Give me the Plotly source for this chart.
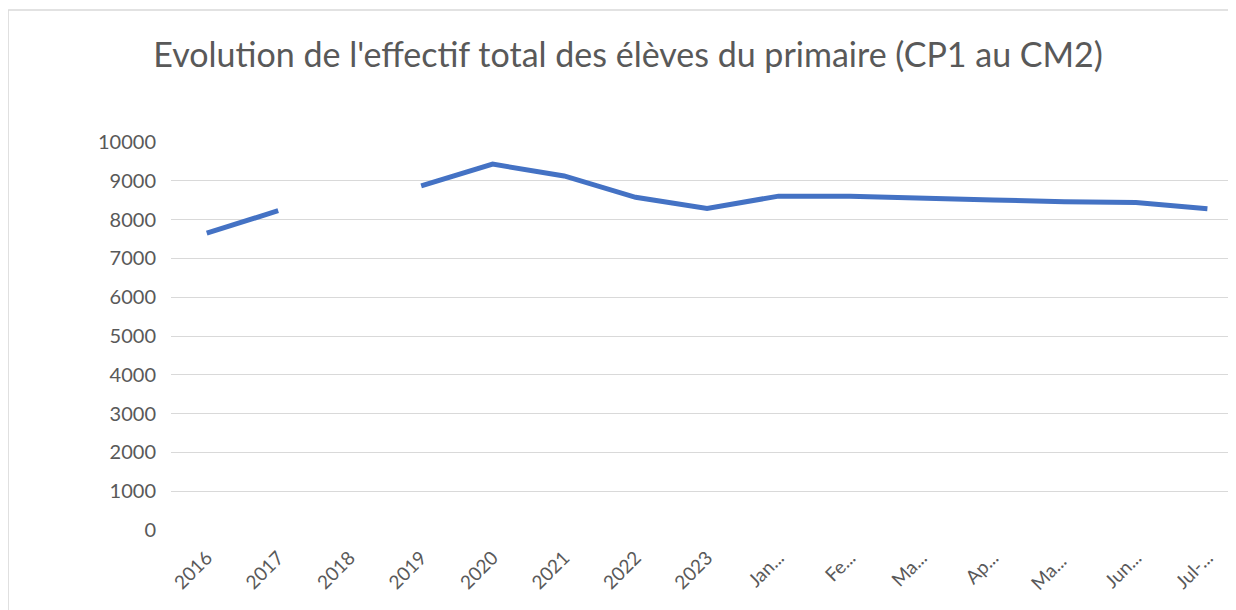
import plotly.graph_objects as go

categories = ["2016", "2017", "2018", "2019", "2020", "2021", "2022", "2023",
              "Jan...", "Fe...", "Ma...", "Ap...", "Ma... ", "Jun...", "Jul-..."]
effectif = [7650, 8230, None, 8870, 9430, 9125, 8575, 8290,
            8605, 8605, 8545, 8505, 8460, 8440, 8280]
y_ticks = list(range(0, 10001, 1000))
y_labels = [str(v) for v in y_ticks]

TXT = "#595959"
FONT = "Lato, 'Open Sans', sans-serif"

fig = go.Figure()
fig.add_trace(go.Scatter(
    x=list(range(len(categories))), y=effectif, mode="lines",
    line=dict(color="#4472C4", width=5), connectgaps=False,
    hoverinfo="skip", showlegend=False,
))

fig.update_layout(
    width=1228, height=602,
    margin=dict(l=163, r=0, t=134, b=80),
    paper_bgcolor="white", plot_bgcolor="white",
    title=dict(text="Evolution de l'effectif total des élèves du primaire (CP1 au CM2)",
               x=0.505, xanchor="center", y=0.922, yanchor="middle",
               font=dict(family=FONT, size=34, color=TXT)),
    xaxis=dict(
        tickmode="array", tickvals=list(range(len(categories))), ticktext=categories,
        range=[-0.5, 14.4], tickangle=-45, showgrid=False, zeroline=False,
        showline=False, ticks="", ticklabelstandoff=12,
        tickfont=dict(family=FONT, size=19, color=TXT),
    ),
    yaxis=dict(
        range=[0, 10000], tickmode="array", tickvals=y_ticks, ticktext=y_labels,
        showgrid=True, gridcolor="#D9D9D9",
        gridwidth=1.3, zeroline=False, showline=False, ticks="",
        ticklabelstandoff=14,
        tickfont=dict(family=FONT, size=20, color=TXT),
    ),
    shapes=[
        dict(type="line", xref="paper", yref="paper", x0=-0.153, x1=1.02, y0=1.34, y1=1.34,
             line=dict(color="#D9D9D9", width=1.5)),
        dict(type="line", xref="paper", yref="paper", x0=-0.153, x1=-0.153, y0=1.34, y1=-0.25,
             line=dict(color="#D9D9D9", width=1.5)),
    ],
)

fig.write_html("out.html")
